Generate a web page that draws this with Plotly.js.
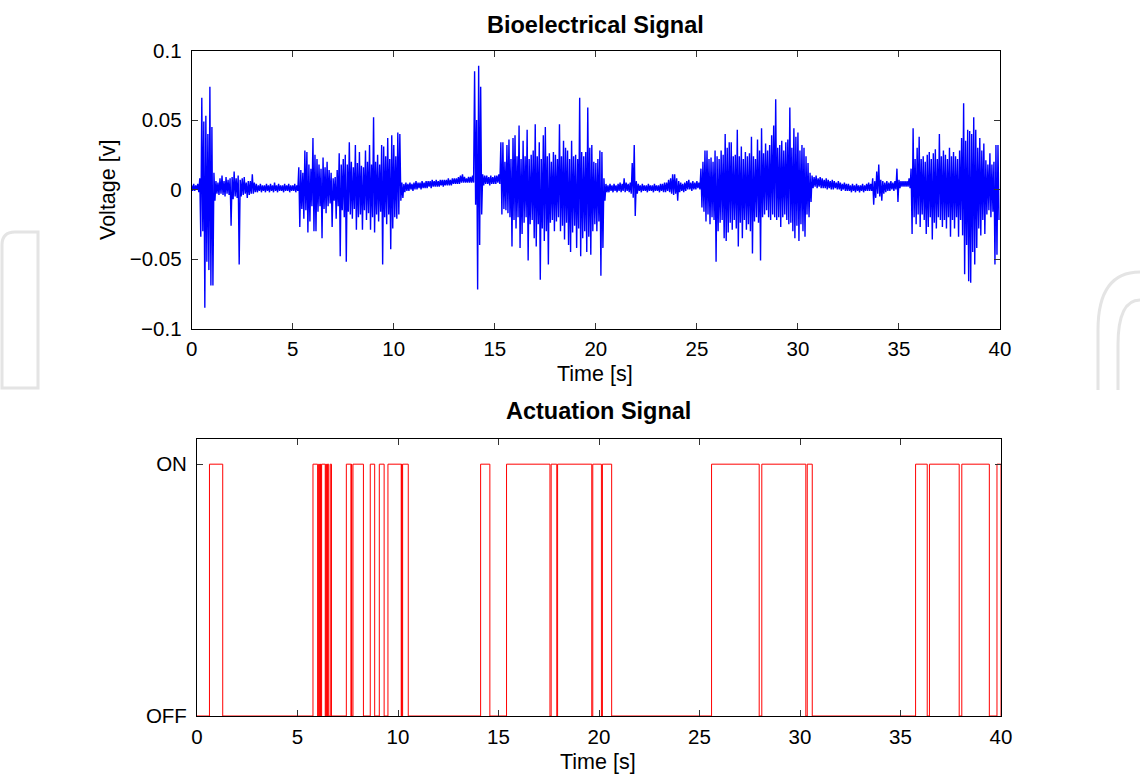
<!DOCTYPE html>
<html>
<head>
<meta charset="utf-8">
<script src="https://cdn.plot.ly/plotly-3.0.1.min.js"></script>
<style>html,body{margin:0;padding:0;background:#fff;}#chart{width:1140px;height:774px;}</style>
</head>
<body>
<div id="chart"></div>
<script>
// ---- Bioelectrical signal: per 0.1 s bin, upper and lower extremes (mV) ----
const binWidth = 0.1; // s
const sigHi = [
  3,4,3,4,8,66,49,53,40,74,
  45,12,6,5,8,10,6,9,7,8,
  9,13,8,10,7,8,9,5,6,6,
  11,5,4,3,4,3,3,4,3,4,
  3,5,3,4,3,3,4,3,4,3,
  3,4,3,16,14,12,28,27,18,15,
  37,25,22,18,15,23,16,20,14,12,
  8,9,14,26,18,22,25,18,34,20,
  16,32,19,27,17,16,28,20,32,18,
  52,20,25,18,32,31,24,37,22,39,
  32,24,41,40,5,4,5,4,5,4,
  5,6,5,5,6,5,6,6,6,7,
  6,7,6,7,7,7,7,8,7,8,
  8,8,9,10,11,9,8,9,9,10,
  85,50,89,74,11,10,10,9,10,9,
  10,10,11,34,34,20,32,36,22,37,
  39,24,46,22,35,24,43,22,25,28,
  47,24,34,22,39,45,24,26,20,27,
  25,22,47,24,35,30,28,22,35,24,
  25,22,66,27,24,27,59,30,32,20,
  19,22,28,27,8,4,3,4,3,4,
  3,4,5,4,8,5,4,5,19,32,
  6,4,3,4,3,3,4,3,3,4,
  3,3,4,4,5,5,7,8,11,11,
  8,6,5,4,5,6,7,5,6,5,
  6,5,15,20,28,28,22,23,20,28,
  24,22,28,25,40,30,34,34,24,25,
  43,24,31,22,27,24,26,38,24,22,
  36,28,44,26,33,28,32,39,46,65,
  30,32,35,28,34,36,59,30,44,38,
  41,28,32,30,24,19,12,10,9,10,
  8,9,8,7,8,7,6,7,6,5,
  6,5,4,5,4,4,3,4,3,4,
  3,3,4,3,4,5,4,8,6,13,
  18,7,6,5,6,5,6,5,6,15,
  7,6,6,6,6,8,15,44,22,30,
  38,22,24,20,25,27,22,26,29,22,
  40,24,28,25,22,30,24,27,24,22,
  28,37,62,35,43,42,40,52,43,30,
  37,28,33,21,18,26,18,20,32,32
];
const sigLo = [
  -1,-1,0,-2,-34,-30,-85,-52,-58,-69,
  -69,-8,-3,-4,-3,-4,-5,-3,-4,-26,
  -7,-5,-6,-54,-5,-4,-3,-6,-4,-3,
  -3,-2,-2,-1,-2,-1,-2,-1,-2,-1,
  -2,-1,-2,-1,-1,-2,-1,-1,-2,-1,
  -1,-2,-1,-27,-14,-21,-15,-31,-23,-12,
  -30,-30,-16,-12,-35,-14,-17,-12,-10,-27,
  -8,-21,-12,-48,-15,-20,-52,-16,-18,-21,
  -14,-29,-20,-18,-29,-15,-22,-17,-29,-20,
  -31,-18,-23,-16,-54,-20,-25,-18,-43,-28,
  -20,-21,-18,-8,-6,-2,-1,-1,0,-1,
  0,0,1,0,1,1,1,2,1,2,
  2,2,2,3,2,3,3,3,3,4,
  4,4,4,5,5,5,5,5,5,5,
  -11,-72,-40,-18,3,4,4,3,4,4,
  4,5,4,-18,-14,-15,-17,-20,-41,-22,
  -28,-20,-42,-32,-24,-20,-51,-25,-22,-35,
  -41,-25,-65,-28,-37,-30,-54,-24,-22,-30,
  -23,-20,-30,-26,-36,-24,-40,-45,-31,-26,
  -42,-28,-48,-35,-30,-45,-34,-47,-30,-25,
  -30,-23,-62,-42,-8,-2,-2,-1,-2,-1,
  -2,-1,-2,-1,-2,-1,-2,-3,-6,-19,
  -3,-1,-2,-1,-1,-2,-1,-1,-2,-1,
  -1,-2,-1,-2,-2,-1,-2,-3,-4,-3,
  -8,-2,-1,-2,-1,0,0,-1,0,0,
  1,0,-13,-16,-23,-18,-25,-20,-22,-52,
  -30,-24,-22,-35,-37,-31,-24,-29,-22,-28,
  -41,-24,-35,-22,-29,-25,-30,-46,-23,-20,
  -24,-51,-20,-18,-15,-20,-22,-18,-20,-22,
  -20,-27,-20,-18,-22,-25,-24,-30,-35,-26,
  -37,-25,-30,-34,-18,-20,-9,1,2,1,
  2,1,1,1,0,1,0,0,1,0,
  0,-1,0,-1,-1,-1,-2,-1,-2,-1,
  -2,-1,-2,-1,-1,-1,-1,-11,-6,-3,
  -5,-8,-3,-2,-1,-1,0,-1,0,-9,
  1,2,2,2,2,1,-32,-20,-25,-18,
  -27,-18,-22,-32,-27,-20,-36,-24,-28,-20,
  -22,-27,-22,-28,-20,-34,-22,-28,-20,-34,
  -22,-33,-61,-40,-66,-67,-45,-54,-42,-28,
  -33,-22,-32,-18,-15,-20,-16,-54,-47,-22
];

// ---- Actuation signal: ON intervals (s) ----
const onStart = [0.62, 5.77, 6.05, 6.11, 6.15, 6.20, 6.41, 6.46, 6.50, 6.63, 7.43, 7.68, 7.76, 8.62, 9.07, 9.50, 10.18, 10.23, 14.11, 15.40, 17.62, 17.94, 19.69, 20.17, 25.60, 28.10, 30.36, 35.75, 36.44, 38.05, 39.80];
const onEnd   = [1.28, 6.00, 6.08, 6.13, 6.17, 6.38, 6.43, 6.48, 6.55, 6.69, 7.66, 7.70, 8.28, 8.84, 9.31, 10.16, 10.20, 10.51, 14.57, 17.56, 17.90, 19.64, 20.12, 20.63, 27.97, 30.29, 30.61, 36.33, 37.92, 39.42, 40.00];

const xTicks = [0,5,10,15,20,25,30,35,40];
const vTickVals = [-0.1,-0.05,0,0.05,0.1];
const vTickText = ['\u22120.1','\u22120.05','0','0.05','0.1'];
const stateVals = [0,1];
const stateText = ['OFF','ON'];

// build traces
const sx = [], sy = [];
for (let i = 0; i < sigHi.length; i++) {
  const t0 = i * binWidth;
  sx.push(t0); sy.push(sigHi[i] / 1000);
  sx.push(t0 + binWidth / 2); sy.push(sigLo[i] / 1000);
}
const ax = [0], ay = [0];
for (let k = 0; k < onStart.length; k++) {
  ax.push(onStart[k], onStart[k], onEnd[k], onEnd[k]);
  ay.push(0, 1, 1, 0);
}
ax.push(40); ay.push(0);

const W = 1140, H = 774;
const px = v => v / W, py = v => 1 - v / H;
const FONT = 'Liberation Sans, Arial, Helvetica, sans-serif';

const axisCommon = {
  showline: true, linecolor: '#000', linewidth: 1, mirror: 'ticks',
  ticks: 'inside', ticklen: 6, tickwidth: 1, tickcolor: '#333',
  showgrid: false, zeroline: false, fixedrange: true,
  tickfont: {family: FONT, size: 20.5, color: '#000'}
};

const data = [
  {x: sx, y: sy, type: 'scatter', mode: 'lines', line: {color: '#0000ff', width: 1.4}, xaxis: 'x', yaxis: 'y', hoverinfo: 'skip'},
  {x: ax, y: ay, type: 'scatter', mode: 'lines', line: {color: '#ff0000', width: 1}, xaxis: 'x2', yaxis: 'y2', hoverinfo: 'skip'}
];

const layout = {
  width: W, height: H,
  margin: {l: 0, r: 0, t: 0, b: 0},
  paper_bgcolor: '#fff', plot_bgcolor: 'rgba(0,0,0,0)',
  showlegend: false,
  xaxis: Object.assign({}, axisCommon, {domain: [px(191.7), px(1000)], range: [0, 40], tickvals: xTicks, ticktext: xTicks.map(String), anchor: 'y', ticklabelstandoff: 2}),
  yaxis: Object.assign({}, axisCommon, {domain: [py(328.5), py(50.5)], range: [-0.1, 0.1], tickvals: vTickVals, ticktext: vTickText, anchor: 'x', ticklabelstandoff: 5}),
  xaxis2: Object.assign({}, axisCommon, {domain: [px(197), px(1001)], range: [0, 40], tickvals: xTicks, ticktext: xTicks.map(String), anchor: 'y2', ticklabelstandoff: 2}),
  yaxis2: Object.assign({}, axisCommon, {domain: [py(716), py(439)], range: [0, 1.1], tickvals: stateVals, ticktext: stateText, anchor: 'x2', ticklabelstandoff: 5}),
  annotations: [
    {text: '<b>Bioelectrical Signal</b>', xref: 'paper', yref: 'paper', x: px(595), y: py(25), showarrow: false, xanchor: 'center', yanchor: 'middle', font: {family: FONT, size: 23.5, color: '#000'}},
    {text: 'Time [s]', xref: 'paper', yref: 'paper', x: px(595), y: py(374), showarrow: false, xanchor: 'center', yanchor: 'middle', font: {family: FONT, size: 21.5, color: '#000'}},
    {text: 'Voltage [v]', xref: 'paper', yref: 'paper', x: px(108), y: py(190), showarrow: false, textangle: -90, xanchor: 'center', yanchor: 'middle', font: {family: FONT, size: 21.5, color: '#000'}},
    {text: '<b>Actuation Signal</b>', xref: 'paper', yref: 'paper', x: px(598), y: py(411), showarrow: false, xanchor: 'center', yanchor: 'middle', font: {family: FONT, size: 23.5, color: '#000'}},
    {text: 'Time [s]', xref: 'paper', yref: 'paper', x: px(598), y: py(762), showarrow: false, xanchor: 'center', yanchor: 'middle', font: {family: FONT, size: 21.5, color: '#000'}}
  ],
  shapes: [
    {type: 'path', xref: 'paper', yref: 'paper', layer: 'below', line: {color: '#e4e4e4', width: 3},
     path: 'M ' + px(2) + ',' + py(388) + ' L ' + px(2) + ',' + py(245) + ' Q ' + px(2) + ',' + py(232) + ' ' + px(15) + ',' + py(232) + ' L ' + px(38) + ',' + py(232) + ' L ' + px(38) + ',' + py(388) + ' Z'},
    {type: 'path', xref: 'paper', yref: 'paper', layer: 'below', line: {color: '#e4e4e4', width: 3},
     path: 'M ' + px(1098) + ',' + py(390) + ' L ' + px(1098) + ',' + py(330) + ' Q ' + px(1098) + ',' + py(272) + ' ' + px(1140) + ',' + py(272)},
    {type: 'path', xref: 'paper', yref: 'paper', layer: 'below', line: {color: '#e4e4e4', width: 3},
     path: 'M ' + px(1118) + ',' + py(390) + ' L ' + px(1118) + ',' + py(345) + ' Q ' + px(1118) + ',' + py(300) + ' ' + px(1140) + ',' + py(300)}
  ]
};

Plotly.newPlot('chart', data, layout, {displayModeBar: false, staticPlot: true});
</script>
</body>
</html>
